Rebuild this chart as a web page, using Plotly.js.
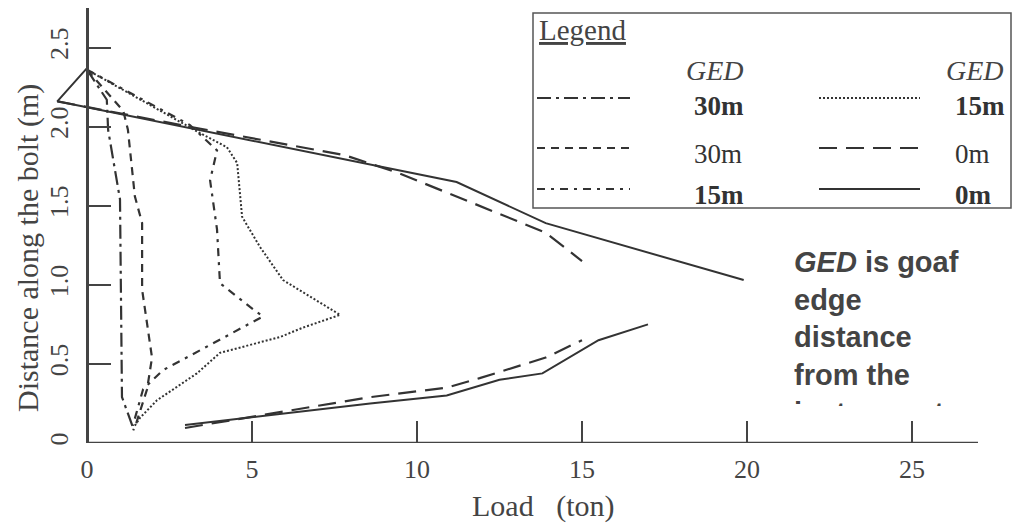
<!DOCTYPE html>
<html>
<head>
<meta charset="utf-8">
<script src="https://cdn.plot.ly/plotly-3.0.1.min.js"></script>
<style>html,body{margin:0;padding:0;background:#fff;}#chart{width:1014px;height:526px;}</style>
</head>
<body>
<div id="chart"></div>
<script>
// ---- data (load in ton, distance along the bolt in m) ----
const load30mBold = [0.0, 0.6, 0.64, 1.0, 1.06, 1.39];
const dist30mBold = [2.36, 2.17, 1.98, 1.54, 0.29, 0.10];

const load30m = [0.0, 1.1, 1.24, 1.45, 1.67, 1.67, 1.97, 1.82, 1.5, 1.4];
const dist30m = [2.36, 2.1, 1.98, 1.56, 1.39, 0.97, 0.54, 0.34, 0.13, 0.08];

const load15mBold = [0.0, 3.12, 3.94, 3.73, 3.94, 4.03, 4.94, 5.33, 3.82, 2.30, 1.70, 1.39];
const dist15mBold = [2.36, 2.01, 1.85, 1.66, 1.35, 1.01, 0.86, 0.80, 0.63, 0.46, 0.34, 0.11];

const load15m = [0.0, 3.42, 4.24, 4.55, 4.70, 5.24, 5.94, 7.67, 6.55, 5.85, 4.03, 3.33, 2.12, 1.61, 1.45];
const dist15m = [2.36, 1.96, 1.87, 1.77, 1.43, 1.24, 1.03, 0.81, 0.73, 0.67, 0.57, 0.44, 0.27, 0.16, 0.11];

const load0m = [-0.9, 3.1, 7.8, 9.4, 13.9, 15.0, null, 2.97, 8.58, 10.9, 11.9, 13.9, 15.0];
const dist0m = [2.16, 2.0, 1.82, 1.71, 1.33, 1.15, null, 0.095, 0.29, 0.35, 0.41, 0.54, 0.65];

const load0mBold = [0.0, -0.9, 11.2, 13.9, 19.9, null, 2.97, 8.58, 10.9, 12.5, 13.8, 15.5, 17.0];
const dist0mBold = [2.37, 2.16, 1.65, 1.39, 1.03, null, 0.114, 0.25, 0.30, 0.40, 0.44, 0.65, 0.75];

const xTicks = [0, 5, 10, 15, 20, 25];
const yTicks = [0, 0.5, 1.0, 1.5, 2.0, 2.5];
const yTickText = ['0', '0.5', '1.0', '1.5', '2.0', '2.5'];

// legend entries
const legendLeft = [
  {label: '<b>30m</b>', dash: '14px,5px,3px,5px'},
  {label: '30m', dash: '8px,6px'},
  {label: '<b>15m</b>', dash: '8px,6px,3px,6px'}
];
const legendRight = [
  {label: '<b>15m</b>', dash: '2px,2px'},
  {label: '0m', dash: '18px,9px'},
  {label: '<b>0m</b>', dash: 'solid'}
];

// ---- layout geometry ----
const W = 1014, H = 526;
const M = {l: 54, r: 36, t: 8, b: 83};
const PW = W - M.l - M.r, PH = H - M.t - M.b;
const px = v => (v - M.l) / PW;
const py = v => (H - M.b - v) / PH;

const ink = '#333333';
const serif = 'Liberation Serif, Times New Roman, serif';
const sans = 'Liberation Sans, Arial, sans-serif';

const traces = [
  {x: load30mBold, y: dist30mBold, dash: '14px,5px,3px,5px', w: 2.2},
  {x: load30m, y: dist30m, dash: '8px,6px', w: 2.2},
  {x: load15mBold, y: dist15mBold, dash: '8px,6px,3px,6px', w: 2.2},
  {x: load15m, y: dist15m, dash: '2px,2px', w: 2},
  {x: load0m, y: dist0m, dash: '18px,9px', w: 2.2},
  {x: load0mBold, y: dist0mBold, dash: 'solid', w: 2}
].map(t => ({
  x: t.x, y: t.y, type: 'scatter', mode: 'lines', connectgaps: false,
  line: {color: ink, width: t.w, dash: t.dash}, hoverinfo: 'skip', showlegend: false
}));

const shapes = [
  // x axis line from x=0
  {type: 'line', xref: 'x', yref: 'y', x0: 0, x1: 27, y0: 0, y1: 0, line: {color: '#444', width: 2.5}},
  // legend box
  {type: 'rect', xref: 'paper', yref: 'paper', x0: px(533), x1: px(1011), y0: py(208), y1: py(13),
   line: {color: '#555', width: 1.5}, fillcolor: 'rgba(255,255,255,0)'}
];
const annotations = [
  {text: '<u>Legend</u>', xref: 'paper', yref: 'paper', x: px(537), y: py(30), xanchor: 'left', yanchor: 'middle',
   showarrow: false, font: {family: serif, size: 29, color: '#444'}},
  {text: '<i>GED</i>', xref: 'paper', yref: 'paper', x: px(715), y: py(70), xanchor: 'center', yanchor: 'middle',
   showarrow: false, font: {family: serif, size: 28, color: '#444'}},
  {text: '<i>GED</i>', xref: 'paper', yref: 'paper', x: px(975), y: py(70), xanchor: 'center', yanchor: 'middle',
   showarrow: false, font: {family: serif, size: 28, color: '#444'}},
  {text: 'Load   (ton)', xref: 'paper', yref: 'paper', x: px(543), y: py(506), xanchor: 'center', yanchor: 'middle',
   showarrow: false, font: {family: serif, size: 30, color: '#444'}},
  {text: 'Distance along the bolt (m)', xref: 'paper', yref: 'paper', x: px(28), y: py(248), xanchor: 'center', yanchor: 'middle',
   textangle: -90, showarrow: false, font: {family: serif, size: 30, color: '#444'}},
  {text: '<i>GED</i> is goaf<br>edge<br>distance<br>from the<br>instrument', xref: 'paper', yref: 'paper',
   x: px(792), y: py(244), xanchor: 'left', yanchor: 'top', align: 'left', valign: 'top',
   width: 200, height: 160, showarrow: false, font: {family: sans, size: 29, color: '#444', weight: 'bold'}}
];
const rowsY = [98, 148, 189];
const textY = [106, 154, 195];
legendLeft.forEach((e, i) => {
  shapes.push({type: 'line', xref: 'paper', yref: 'paper', x0: px(537), x1: px(630), y0: py(rowsY[i]), y1: py(rowsY[i]),
    line: {color: ink, width: 2, dash: e.dash}});
  annotations.push({text: e.label, xref: 'paper', yref: 'paper', x: px(692), y: py(textY[i]), xanchor: 'left', yanchor: 'middle',
    showarrow: false, font: {family: serif, size: 27, color: '#333'}});
});
legendRight.forEach((e, i) => {
  shapes.push({type: 'line', xref: 'paper', yref: 'paper', x0: px(819), x1: px(920), y0: py(rowsY[i]), y1: py(rowsY[i]),
    line: {color: ink, width: 2, dash: e.dash}});
  annotations.push({text: e.label, xref: 'paper', yref: 'paper', x: px(953), y: py(textY[i]), xanchor: 'left', yanchor: 'middle',
    showarrow: false, font: {family: serif, size: 27, color: '#333'}});
});

const layout = {
  width: W, height: H,
  margin: M,
  paper_bgcolor: '#ffffff', plot_bgcolor: '#ffffff',
  showlegend: false,
  xaxis: {
    range: [-1, 27], tickvals: xTicks, ticktext: xTicks.map(String),
    ticks: 'inside', ticklen: 22, tickwidth: 2, tickcolor: '#444',
    showline: false, showgrid: false, zeroline: false,
    tickfont: {family: serif, size: 26, color: '#444'}, ticklabelstandoff: 8
  },
  yaxis: {
    range: [0, 2.75], tickvals: yTicks, ticktext: yTickText, tickangle: -90,
    anchor: 'free', position: px(87),
    ticks: 'inside', ticklen: 22, tickwidth: 2, tickcolor: '#444',
    showline: true, linecolor: '#444', linewidth: 2.5, showgrid: false, zeroline: false,
    tickfont: {family: serif, size: 26, color: '#444'}, ticklabelstandoff: 8
  },
  shapes: shapes,
  annotations: annotations
};

Plotly.newPlot('chart', traces, layout, {displayModeBar: false, staticPlot: true});
</script>
</body>
</html>
